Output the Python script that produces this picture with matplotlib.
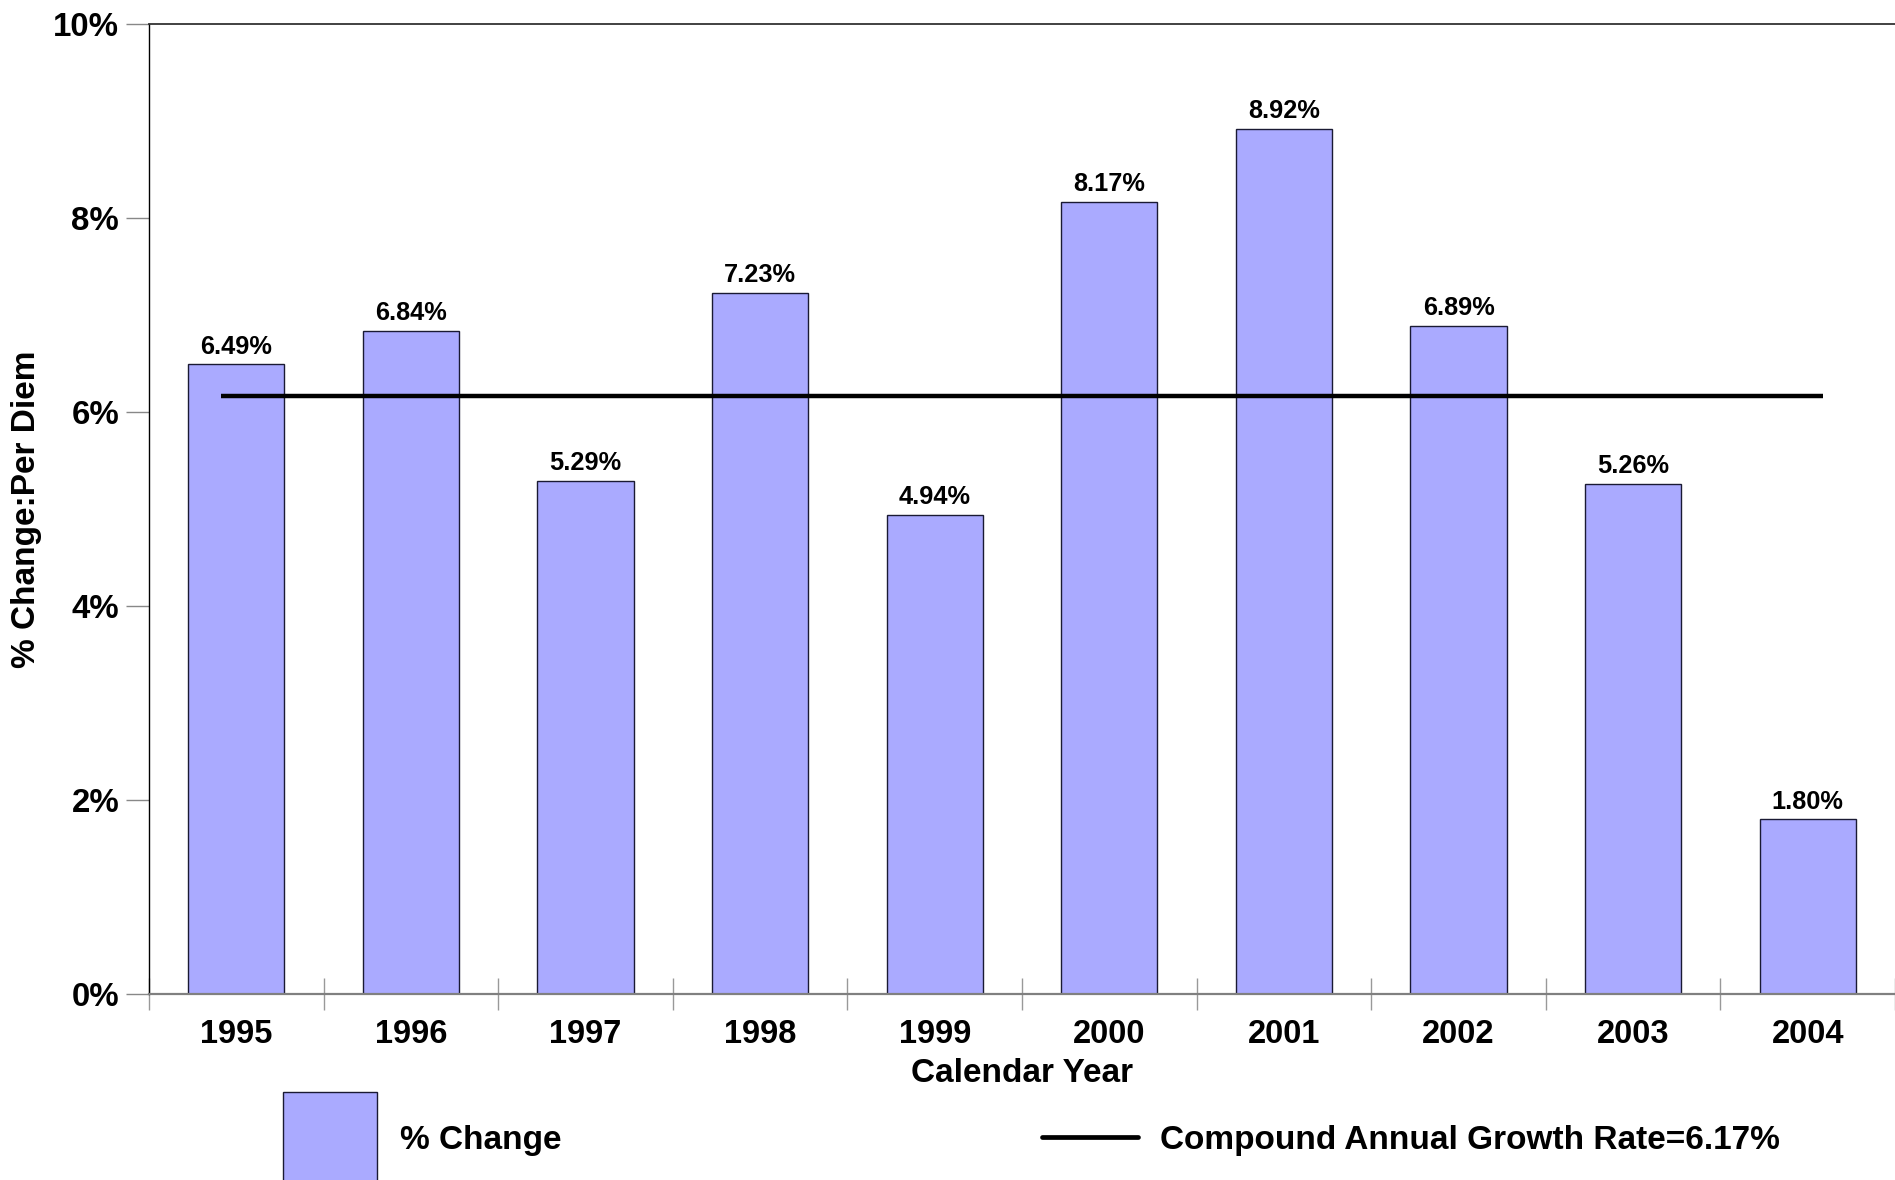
import matplotlib
matplotlib.use("Agg")
import matplotlib.pyplot as plt
from matplotlib.patches import Rectangle
from matplotlib.lines import Line2D
import numpy as np

plt.rcParams['font.family'] = ['Liberation Sans', 'DejaVu Sans']

years = ['1995', '1996', '1997', '1998', '1999', '2000', '2001', '2002', '2003', '2004']
pct_change = [6.49, 6.84, 5.29, 7.23, 4.94, 8.17, 8.92, 6.89, 5.26, 1.80]
cagr = 6.17
y_ticks = [0, 2, 4, 6, 8, 10]

W, H = 1895, 1180
fig = plt.figure(figsize=(W / 100, H / 100), dpi=100)
ax = fig.add_axes([149 / W, 1 - 994 / H, (W - 149) / W, (994 - 24) / H])

x = np.arange(len(years))
bar_color = '#AAAAFF'
ax.bar(x, pct_change, width=0.55, color=bar_color, edgecolor='#1a1a33', linewidth=1.0, zorder=2)

for xi, v in zip(x, pct_change):
    ax.text(xi, v + 0.06, f'{v:.2f}%', ha='center', va='bottom', fontsize=18.3,
            fontweight='bold', zorder=4)

ax.hlines(cagr, x[0] - 0.09, x[-1] + 0.09, color='black', linewidth=3.2, zorder=3)

ax.set_xlim(-0.5, len(years) - 0.5)
ax.set_ylim(0, 10)

ax.set_yticks(y_ticks)
ax.set_yticklabels([f'{t}%' for t in y_ticks], fontsize=23.8, fontweight='bold')
ax.tick_params(axis='y', direction='out', length=16.5, width=1.0, color='#888888', pad=5)

ax.set_xticks(x)
ax.set_xticklabels(years, fontsize=23.5, fontweight='bold')
ax.set_xticks(np.arange(-0.5, len(years) + 0.5, 1.0), minor=True)
ax.tick_params(axis='x', which='major', length=0, pad=18)
ax.tick_params(axis='x', which='minor', direction='inout', length=23, width=1.0, color='#999999')

ax.spines['right'].set_visible(False)
ax.spines['top'].set_color('#333333')
ax.spines['top'].set_linewidth(1.3)
ax.spines['bottom'].set_color('#808080')
ax.spines['bottom'].set_linewidth(1.6)
ax.spines['left'].set_color('black')
ax.spines['left'].set_linewidth(1.0)

ax.set_xlabel('Calendar Year', fontsize=24, fontweight='bold', labelpad=6)
ax.set_ylabel('% Change:Per Diem', fontsize=24, fontweight='bold', va='center')
ax.yaxis.set_label_coords((27 - 149) / (W - 149), 0.5)

# Legend drawn in figure pixel-fraction coordinates
fig.add_artist(Rectangle((283 / W, 1 - 1195 / H), (377 - 283) / W, (1195 - 1092) / H,
                         transform=fig.transFigure, facecolor=bar_color,
                         edgecolor='#1a1a33', linewidth=1.0))
fig.text(400 / W, 1 - 1140 / H, '% Change', fontsize=24, fontweight='bold',
         ha='left', va='center')
fig.add_artist(Line2D([1042 / W, 1138 / W], [1 - 1137 / H, 1 - 1137 / H],
                      transform=fig.transFigure, color='black', linewidth=3.4,
                      solid_capstyle='round'))
fig.text(1160 / W, 1 - 1140 / H, f'Compound Annual Growth Rate={cagr:.2f}%', fontsize=24,
         fontweight='bold', ha='left', va='center')

fig.savefig('out.png', dpi=100)
